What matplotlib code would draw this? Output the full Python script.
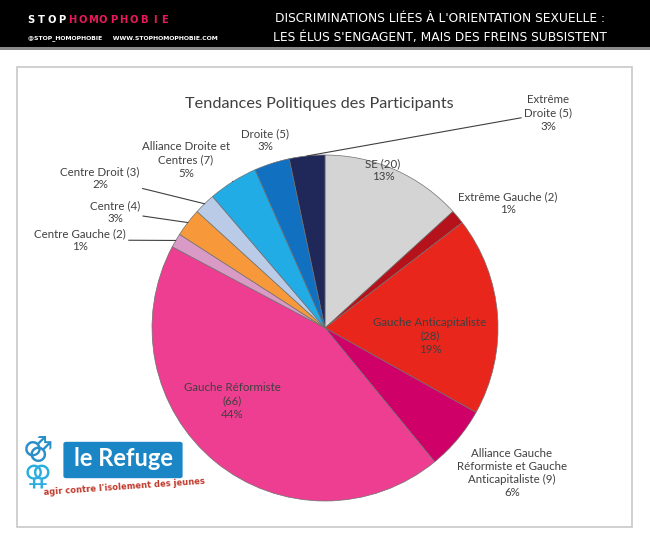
import numpy as np
import matplotlib
matplotlib.use("Agg")
import matplotlib.pyplot as plt
from matplotlib.patches import Rectangle, FancyBboxPatch

# data, clockwise from the top
parties = ["SE", "Extrême Gauche", "Gauche Anticapitaliste",
           "Alliance Gauche Réformiste et Gauche Anticapitaliste",
           "Gauche Réformiste", "Centre Gauche", "Centre", "Centre Droit",
           "Alliance Droite et Centres", "Droite", "Extrême Droite"]
counts = [20, 2, 28, 9, 66, 2, 4, 3, 7, 5, 5]
colors = ["#d4d4d4", "#b5121b", "#e8261c", "#cf0068", "#ee3e91", "#d99ac6",
          "#f7993b", "#b9cbe6", "#22ace6", "#1170c0", "#1f2858"]

# label text as in the picture (line breaks)
label_text = ["SE (20)", "Extrême Gauche (2)", "Gauche Anticapitaliste\n(28)",
              "Alliance Gauche\nRéformiste et Gauche\nAnticapitaliste (9)",
              "Gauche Réformiste\n(66)", "Centre Gauche (2)", "Centre (4)",
              "Centre Droit (3)", "Alliance Droite et\nCentres (7)", "Droite (5)",
              "Extrême\nDroite (5)"]

# label centres in pixels and whether a leader line is drawn
label_px = [(383, 170), (508, 203), (430, 336), (512, 473), (232, 401),
            (80, 240), (115, 212), (100, 178), (186, 160), (265, 140), (548, 113)]
leader = [False, False, False, False, False, True, True, True, True, False, True]

W, H = 650, 550
CX, CY, R = 325, 328, 173

fig = plt.figure(figsize=(6.5, 5.5), dpi=100)
fig.patch.set_facecolor("white")

# header bar
fig.patches.append(Rectangle((0, 1 - 47 / H), 1, 47 / H, transform=fig.transFigure,
                             facecolor="black", edgecolor="none", zorder=-2))
fig.patches.append(Rectangle((0, 1 - 50 / H), 1, 3 / H, transform=fig.transFigure,
                             facecolor="#8a8a8a", edgecolor="none", zorder=-2))
brand = "STOPHOMOPHOBIE"
for i, ch in enumerate(brand):
    fig.text((31 + i * 10.3) / W, 1 - 20 / H, ch, color="white" if i < 4 else "#e8195a",
             fontsize=8, fontweight="bold", fontstretch="condensed",
             va="center", ha="center")
fig.text(28 / W, 1 - 38 / H, "@STOP_HOMOPHOBIE     WWW.STOPHOMOPHOBIE.COM", color="white",
         fontsize=4.4, fontweight="bold", va="center", ha="left")
fig.text(440 / W, 1 - 18 / H, "DISCRIMINATIONS LIÉES À L'ORIENTATION SEXUELLE :",
         color="white", fontsize=8.8, va="center", ha="center")
fig.text(440 / W, 1 - 38 / H, "LES ÉLUS S'ENGAGENT, MAIS DES FREINS SUBSISTENT",
         color="white", fontsize=8.8, va="center", ha="center")

# chart frame
fig.patches.append(Rectangle((17 / W, 1 - 527 / H), 615 / W, 460 / H,
                             transform=fig.transFigure, facecolor="white",
                             edgecolor="#c8c8c8", linewidth=1.2, zorder=-1))

fig.text(319 / W, 1 - 104 / H, "Tendances Politiques des Participants",
         family="Lato", fontsize=11.7, color="#404040", ha="center", va="center")

ax = fig.add_axes([(CX - R) / W, 1 - (CY + R) / H, 2 * R / W, 2 * R / H])
ax.set_zorder(2)

wedges, _ = ax.pie(counts, colors=colors, startangle=90, counterclock=False, radius=1,
                   wedgeprops=dict(edgecolor="#707070", linewidth=0.5))
ax.set_xlim(-1, 1)
ax.set_ylim(-1, 1)
ax.set_aspect("equal")
ax.axis("off")

total = sum(counts)
pct = [round(c / total * 100) for c in counts]

for w, txt, p, (px, py), ld in zip(wedges, label_text, pct, label_px, leader):
    tx = (px - CX) / R
    ty = (CY - py) / R
    s = f"{txt}\n{p}%"
    if ld:
        ang = np.deg2rad((w.theta1 + w.theta2) / 2)
        ax.annotate(s, xy=(np.cos(ang), np.sin(ang)), xytext=(tx, ty),
                    ha="center", va="center", fontsize=8.3, family="Lato",
                    color="#404040", annotation_clip=False, linespacing=1.25,
                    arrowprops=dict(arrowstyle="-", color="#404040", lw=0.8,
                                    shrinkA=0, shrinkB=0))
    else:
        ax.text(tx, ty, s, ha="center", va="center", fontsize=8.3, family="Lato",
                color="#404040", linespacing=1.25, clip_on=False)

# logo
fig.patches.append(FancyBboxPatch((66 / W, 1 - 476 / H), 114 / W, 32 / H,
                                  boxstyle="round,pad=0.004", transform=fig.transFigure,
                                  facecolor="#1a86c6", edgecolor="none"))
fig.text(124 / W, 1 - 459 / H, "le Refuge", color="white", fontsize=17, family="Lato",
         fontweight="bold", ha="center", va="center")
fig.text(124 / W, 1 - 487 / H, "agir contre l'isolement des jeunes", color="#c0392b",
         fontsize=6, fontweight="bold", ha="center", va="center", rotation=4)
fig.text(38 / W, 1 - 448 / H, "\u26a3", color="#2a8fc9", fontsize=20, ha="center", va="center")
fig.text(38 / W, 1 - 476 / H, "\u26a2", color="#2aaee0", fontsize=20, ha="center", va="center")

fig.savefig("out.png", dpi=100)
